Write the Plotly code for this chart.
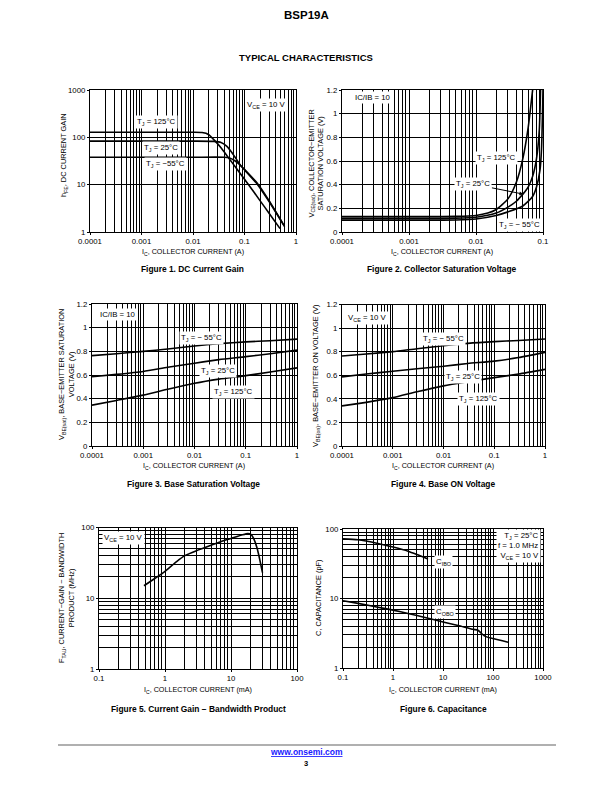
import math
import plotly.graph_objects as go

# page body adds an 8 px margin; figure is sized so the whole page stays 612 x 792
OFF = 8
W, H = 612 - 2 * OFF, 792 - 2 * OFF
FONT = "Liberation Sans, Arial, sans-serif"

# ---------------- Figure 1: DC current gain ----------------
f1_ic_125 = [1e-4, 1e-3, 0.01, 0.015, 0.02, 0.027, 0.035, 0.048, 0.07, 0.1, 0.12, 0.2, 0.3, 0.49]
f1_hfe_125 = [128, 128, 128, 126, 115, 83, 60, 38, 22, 13, 10, 4.6, 2.5, 1.18]
f1_ic_25 = [1e-4, 1e-3, 0.01, 0.025, 0.035, 0.045, 0.06, 0.082, 0.1, 0.18, 0.3, 0.58]
f1_hfe_25 = [83, 83, 83, 82, 78, 65, 44, 26.5, 21, 10.5, 4.6, 1.4]
f1_ic_m55 = [1e-4, 1e-3, 0.01, 0.04, 0.05, 0.065, 0.082, 0.1, 0.18, 0.3, 0.6]
f1_hfe_m55 = [38, 38, 38, 38, 37, 32, 26, 20.5, 10, 4.4, 1.3]

# ---------------- Figure 2: collector saturation voltage ----------------
f2_ic_125 = [1e-4, 1e-3, 0.005, 0.01, 0.015, 0.02, 0.03, 0.04, 0.05, 0.06, 0.07]
f2_v_125 = [0.13, 0.13, 0.132, 0.14, 0.16, 0.19, 0.28, 0.42, 0.62, 0.88, 1.2]
f2_ic_25 = [1e-4, 1e-3, 0.005, 0.01, 0.02, 0.03, 0.04, 0.05, 0.06, 0.07, 0.08, 0.088, 0.092]
f2_v_25 = [0.115, 0.115, 0.117, 0.125, 0.16, 0.21, 0.26, 0.32, 0.38, 0.47, 0.62, 0.86, 1.2]
f2_ic_m55 = [1e-4, 1e-3, 0.005, 0.01, 0.02, 0.03, 0.05, 0.07, 0.08, 0.09, 0.095, 0.1]
f2_v_m55 = [0.10, 0.10, 0.102, 0.11, 0.14, 0.17, 0.22, 0.30, 0.38, 0.52, 0.7, 1.2]

# ---------------- Figure 3: base saturation voltage ----------------
f3_ic = [1e-4, 3e-4, 1e-3, 3e-3, 0.01, 0.03, 0.1, 0.3, 1]
f3_v_m55 = [0.764, 0.78, 0.80, 0.82, 0.845, 0.865, 0.88, 0.89, 0.903]
f3_v_25 = [0.585, 0.605, 0.63, 0.665, 0.70, 0.73, 0.755, 0.78, 0.81]
f3_v_125 = [0.345, 0.385, 0.43, 0.48, 0.53, 0.565, 0.595, 0.625, 0.66]

# ---------------- Figure 4: base ON voltage ----------------
f4_ic = [1e-4, 3e-4, 1e-3, 3e-3, 0.01, 0.03, 0.1, 0.3, 1]
f4_v_m55 = [0.763, 0.78, 0.80, 0.825, 0.85, 0.87, 0.885, 0.895, 0.907]
f4_v_25 = [0.586, 0.61, 0.634, 0.655, 0.676, 0.70, 0.72, 0.75, 0.794]
f4_v_125 = [0.34, 0.37, 0.41, 0.46, 0.51, 0.545, 0.58, 0.61, 0.65]

# ---------------- Figure 5: current gain - bandwidth product ----------------
f5_ic = [0.48, 0.7, 1, 1.5, 2, 3, 5, 7, 10, 15, 18, 20, 22, 25, 30]
f5_ft = [15, 19, 24, 33, 40, 47, 56, 63, 70, 79, 82, 80, 70, 50, 23]

# ---------------- Figure 6: capacitance ----------------
f6_ic_cibo = [0.1, 0.2, 0.5, 1, 2, 3, 5]
f6_c_cibo = [72, 70, 62, 55, 48, 43, 37]
f6_ic_cobo = [0.1, 0.2, 0.5, 1, 2, 5, 10, 20, 40, 50, 60, 70, 100, 200]
f6_c_cobo = [9.3, 8.5, 7.5, 6.8, 6.1, 5.2, 4.6, 4.1, 3.6, 3.5, 3.1, 2.85, 2.65, 2.35]

# tick labels
ticks_1e4_1 = ["0.0001", "0.001", "0.01", "0.1", "1"]
ticks_1e4_01 = ["0.0001", "0.001", "0.01", "0.1"]
ticks_01_100 = ["0.1", "1", "10", "100"]
ticks_01_1000 = ["0.1", "1", "10", "100", "1000"]
ticks_1_1000 = ["1", "10", "100", "1000"]
ticks_1_100 = ["1", "10", "100"]
volt_vals = [0, 0.2, 0.4, 0.6, 0.8, 1.0, 1.2]
volt_text = ["0", "0.2", "0.4", "0.6", "0.8", "1", "1.2"]

# panel pixel boxes on the page (left, right, top, bottom)
boxes = {
    1: (90, 296, 90, 232),
    2: (342, 543, 90, 232),
    3: (92, 297, 304, 446),
    4: (342, 545, 304.5, 446),
    5: (99, 297, 527.5, 669),
    6: (343, 543, 529, 668),
}

TICK_SIZE = 7.8
LABEL_SIZE = 7.8
XTITLE_SIZE = 7.2
YTITLE_SIZE = 7.4
CAPTION_SIZE = 8.4


def fx(x):
    return (x - OFF) / W


def fy(y):
    return 1 - (y - OFF) / H


def minor_vals(e0, e1):
    return [m * 10.0 ** e for e in range(e0, e1) for m in range(2, 10)]


def log_axis(e0, e1, labels, minor=True):
    vals = [10.0 ** e for e in range(e0, e1 + 1)]
    d = dict(type="log", range=[e0, e1], tickmode="array", tickvals=vals, ticktext=labels,
             showgrid=True, gridcolor="black", gridwidth=0.9)
    if minor:
        d["minor"] = dict(tickmode="array", tickvals=minor_vals(e0, e1), showgrid=True,
                          gridcolor="black", gridwidth=0.9, ticks="")
    return d


def lin_axis():
    return dict(type="linear", range=[0, 1.2], tickmode="array", tickvals=volt_vals,
                ticktext=volt_text, showgrid=True, gridcolor="black", gridwidth=0.9)


axis_specs = {
    1: (log_axis(-4, 0, ticks_1e4_1), log_axis(0, 3, ticks_1_1000, minor=False)),
    2: (log_axis(-4, -1, ticks_1e4_01), lin_axis()),
    3: (log_axis(-4, 0, ticks_1e4_1), lin_axis()),
    4: (log_axis(-4, 0, ticks_1e4_1), lin_axis()),
    5: (log_axis(-1, 2, ticks_01_100), log_axis(0, 2, ticks_1_100)),
    6: (log_axis(-1, 3, ticks_01_1000), log_axis(0, 2, ticks_1_100)),
}

fig = go.Figure()
layout = dict(width=W, height=H, autosize=False, margin=dict(l=0, r=0, t=0, b=0, pad=0),
              paper_bgcolor="white", plot_bgcolor="white", showlegend=False,
              font=dict(family=FONT, size=7, color="black"))

for n, (l, r, t, b) in boxes.items():
    xa, ya = axis_specs[n]
    suffix = "" if n == 1 else str(n)
    common = dict(showline=True, linecolor="black", linewidth=1.2, mirror=True,
                  zeroline=False, tickfont=dict(family=FONT, size=TICK_SIZE, color="black"),
                  ticks="outside", ticklen=2, tickcolor="black", automargin=False)
    xa.update(common)
    ya.update(common)
    xa.update(domain=[fx(l), fx(r)], anchor="y" + suffix)
    ya.update(domain=[fy(b), fy(t)], anchor="x" + suffix)
    layout["xaxis" + suffix] = xa
    layout["yaxis" + suffix] = ya

LINE = dict(color="black", width=1.6, shape="spline", smoothing=0.6)


def add(n, x, y):
    suffix = "" if n == 1 else str(n)
    fig.add_trace(go.Scatter(x=x, y=y, mode="lines", line=LINE,
                             xaxis="x" + suffix, yaxis="y" + suffix, hoverinfo="skip"))


add(1, f1_ic_125, f1_hfe_125)
add(1, f1_ic_25, f1_hfe_25)
add(1, f1_ic_m55, f1_hfe_m55)
add(2, f2_ic_125, f2_v_125)
add(2, f2_ic_25, f2_v_25)
add(2, f2_ic_m55, f2_v_m55)
add(3, f3_ic, f3_v_m55)
add(3, f3_ic, f3_v_25)
add(3, f3_ic, f3_v_125)
add(4, f4_ic, f4_v_m55)
add(4, f4_ic, f4_v_25)
add(4, f4_ic, f4_v_125)
add(5, f5_ic, f5_ft)
add(6, f6_ic_cibo, f6_c_cibo)
add(6, f6_ic_cobo, f6_c_cobo)

anns = []


def note(text, x, y, size=LABEL_SIZE, bold=False, bg=None, xanchor="center", align="center",
         angle=0, color="black", yanchor="middle", pad=1):
    if bold:
        text = "<b>" + text + "</b>"
    d = dict(xref="paper", yref="paper", x=fx(x), y=fy(y), text=text, showarrow=False,
             font=dict(family=FONT, size=size, color=color), xanchor=xanchor, yanchor=yanchor,
             align=align, textangle=angle, borderpad=pad)
    if bg:
        d["bgcolor"] = bg
    anns.append(d)


note("BSP19A", 306, 8, size=11.5, bold=True, yanchor="top", pad=0)
note("TYPICAL CHARACTERISTICS", 306, 57, size=9.5, bold=True)

# captions
note("Figure 1. DC Current Gain", 192, 269, size=CAPTION_SIZE, bold=True)
note("Figure 2. Collector Saturation Voltage", 442, 269, size=CAPTION_SIZE, bold=True)
note("Figure 3. Base Saturation Voltage", 193, 484, size=CAPTION_SIZE, bold=True)
note("Figure 4. Base ON Voltage", 443, 484, size=CAPTION_SIZE, bold=True)
note("Figure 5. Current Gain − Bandwidth Product", 198, 709, size=CAPTION_SIZE, bold=True)
note("Figure 6. Capacitance", 443, 709, size=CAPTION_SIZE, bold=True)

# x titles
xt_A = "I<sub>C</sub>, COLLECTOR CURRENT (A)"
xt_mA = "I<sub>C</sub>, COLLECTOR CURRENT (mA)"
note(xt_A, 193, 252, size=XTITLE_SIZE)
note(xt_A, 442, 252, size=XTITLE_SIZE)
note(xt_A, 194, 466, size=XTITLE_SIZE)
note(xt_A, 443, 466, size=XTITLE_SIZE)
note(xt_mA, 198, 690, size=XTITLE_SIZE)
note(xt_mA, 443, 690, size=XTITLE_SIZE)

# y titles
note("h<sub>FE</sub>, DC CURRENT GAIN", 64, 155, size=YTITLE_SIZE, angle=-90)
note("V<sub>CE(sat)</sub>, COLLECTOR−EMITTER<br>SATURATION VOLTAGE (V)", 316.5, 164,
     size=YTITLE_SIZE, angle=-90)
note("V<sub>BE(sat)</sub>, BASE−EMITTER SATURATION<br>VOLTAGE (V)", 66, 375,
     size=YTITLE_SIZE, angle=-90)
note("V<sub>BE(on)</sub>, BASE−EMITTER ON VOLTAGE (V)", 316, 376, size=YTITLE_SIZE, angle=-90)
note("F<sub>TAU</sub>, CURRENT−GAIN − BANDWIDTH<br>PRODUCT (MHz)", 66, 598,
     size=YTITLE_SIZE, angle=-90)
note("C, CAPACITANCE (pF)", 318, 598, size=YTITLE_SIZE, angle=-90)

# in-plot labels
WB = "white"
note("V<sub>CE</sub> = 10 V", 266, 105, bg=WB)
note("T<sub>J</sub> = 125°C", 156, 122, bg=WB)
note("T<sub>J</sub> = 25°C", 161, 148, bg=WB)
note("T<sub>J</sub> = −55°C", 165, 164, bg=WB)

note("IC/IB = 10", 373, 97, bg=WB)
note("T<sub>J</sub> = 125°C", 496, 158, bg=WB)
note("T<sub>J</sub> = − 55°C", 519, 225, bg=WB)

note("IC/IB = 10", 118, 315, bg=WB)
note("T<sub>J</sub> = − 55°C", 202, 338, bg=WB)
note("T<sub>J</sub> = 25°C", 218, 371, bg=WB)
note("T<sub>J</sub> = 125°C", 233, 392, bg=WB)

note("V<sub>CE</sub> = 10 V", 367, 318, bg=WB)
note("T<sub>J</sub> = − 55°C", 443, 339, bg=WB)
note("T<sub>J</sub> = 25°C", 463, 377, bg=WB)
note("T<sub>J</sub> = 125°C", 478, 399, bg=WB)

note("V<sub>CE</sub> = 10 V", 123, 538, bg=WB)

note("T<sub>J</sub> = 25°C<br>f = 1.0 MHz<br>V<sub>CE</sub> = 10 V", 541, 546, bg=WB,
     xanchor="right", align="right")
note("C<sub>IBO</sub>", 443, 562, bg=WB)
note("C<sub>OBO</sub>", 445, 612, bg=WB)

# arrow label in Figure 2
anns.append(dict(xref="x2", yref="y2", x=math.log10(0.051), y=0.32, ax=-50, ay=-10,
                 text="T<sub>J</sub> = 25°C", showarrow=True, arrowhead=2, arrowsize=0.8,
                 arrowwidth=1, arrowcolor="black", bgcolor="white", borderpad=1,
                 font=dict(family=FONT, size=LABEL_SIZE, color="black")))

# footer
note("<u>www.onsemi.com</u>", 306, 752, size=8.5, bold=True, color="#1a1aff")
note("3", 306, 763, size=7.5, bold=True)

layout["annotations"] = anns
layout["shapes"] = [dict(type="line", xref="paper", yref="paper", x0=fx(58), x1=fx(556),
                         y0=fy(745), y1=fy(745),
                         line=dict(color="#b0b0b0", width=2))]

fig.update_layout(**layout)
fig.write_html("out.html")
